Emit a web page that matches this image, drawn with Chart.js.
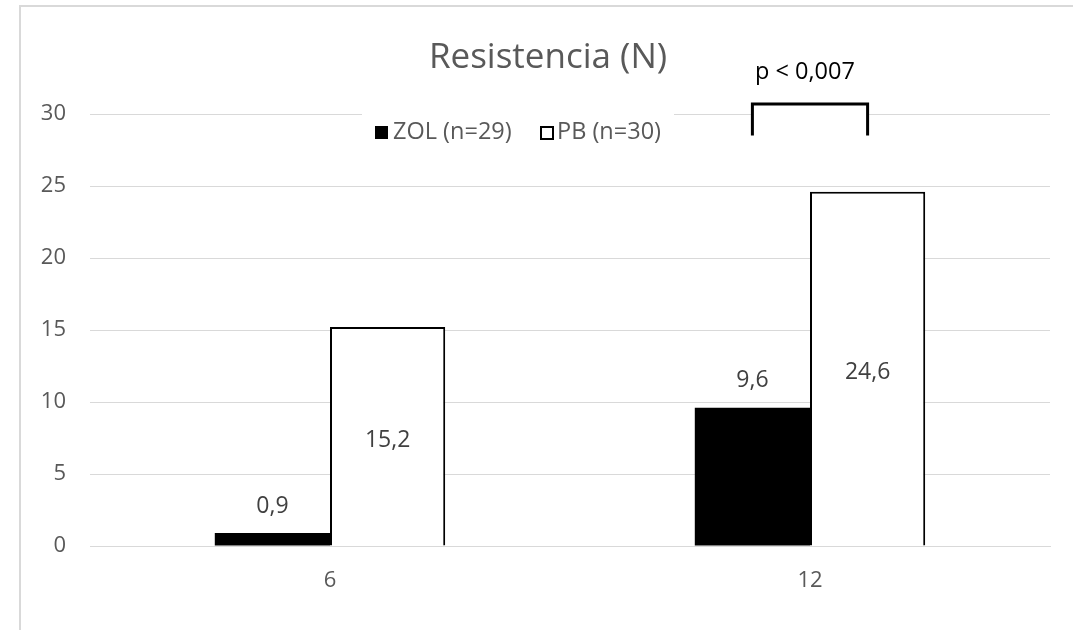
<!DOCTYPE html>
<html>
<head>
<meta charset="utf-8">
<script src="https://cdn.jsdelivr.net/npm/chart.js@4.4.1/dist/chart.umd.min.js"></script>
<style>
  html, body { margin: 0; padding: 0; background: #fff; }
  canvas { display: block; }
</style>
</head>
<body>
<canvas id="chart" width="1073" height="630"></canvas>
<script>
// Months of follow-up and mean resistance per group
const categories = ['6', '12'];
const zolValues = [0.9, 9.6];
const pbValues = [15.2, 24.6];
const seriesNames = ['ZOL (n=29)', 'PB (n=30)'];
const yTickValues = [0, 5, 10, 15, 20, 25, 30];
const chartTitle = 'Resistencia (N)';
const significanceText = 'p < 0,007';

const FONT = '"Open Sans", "Liberation Sans", sans-serif';
const TEXT_GREY = '#595959';
const LABEL_GREY = '#404040';
const GRID_GREY = '#d9d9d9';

const fmt = v => v.toFixed(1).replace('.', ',');

const decorations = {
  id: 'decorations',
  beforeDraw(chart) {
    const ctx = chart.ctx;
    ctx.save();
    ctx.fillStyle = '#fff';
    ctx.fillRect(0, 0, chart.width, chart.height);
    // outer frame of the chart box
    ctx.strokeStyle = GRID_GREY;
    ctx.lineWidth = 2;
    ctx.strokeRect(20, 6, chart.width + 40, chart.height + 40);
    ctx.restore();
  },
  afterDatasetsDraw(chart) {
    const ctx = chart.ctx;
    ctx.save();
    ctx.font = '23px ' + FONT;
    ctx.textAlign = 'center';
    ctx.textBaseline = 'middle';
    ctx.fillStyle = LABEL_GREY;
    // ZOL values sit above the bar end
    chart.getDatasetMeta(0).data.forEach((bar, i) => {
      ctx.fillText(fmt(zolValues[i]), bar.x, bar.y - 27);
    });
    // PB values are centred inside the bar
    chart.getDatasetMeta(1).data.forEach((bar, i) => {
      ctx.fillText(fmt(pbValues[i]), bar.x, (bar.y + bar.base) / 2 + 4);
    });
    ctx.restore();
  },
  afterDraw(chart) {
    const ctx = chart.ctx;
    const ys = chart.scales.y;
    ctx.save();

    // title
    ctx.font = '35px ' + FONT;
    ctx.fillStyle = TEXT_GREY;
    ctx.textAlign = 'center';
    ctx.textBaseline = 'middle';
    ctx.fillText(chartTitle, 548, 58);

    // legend with white backing over the gridline
    ctx.fillStyle = '#fff';
    ctx.fillRect(362, 110, 312, 42);
    ctx.font = '23.5px ' + FONT;
    ctx.textAlign = 'left';
    const ly = 132;
    ctx.fillStyle = '#000';
    ctx.fillRect(375, ly - 6, 13, 13);
    ctx.fillStyle = TEXT_GREY;
    ctx.fillText(seriesNames[0], 393, ly);
    ctx.fillStyle = '#fff';
    ctx.fillRect(541, ly - 5, 12, 12);
    ctx.strokeStyle = '#000';
    ctx.lineWidth = 2;
    ctx.strokeRect(541, ly - 5, 12, 12);
    ctx.fillStyle = TEXT_GREY;
    ctx.fillText(seriesNames[1], 557, ly);

    // significance bracket over the 12-month group
    const refBar = chart.getDatasetMeta(1).data[1];
    const cx = chart.scales.x.getPixelForValue(1);
    const half = refBar.width / 2;
    const top = ys.getPixelForValue(30.7);
    const bottom = ys.getPixelForValue(28.5);
    ctx.fillStyle = '#fff';
    ctx.fillRect(cx - half, top, half * 2, bottom - top);
    ctx.beginPath();
    ctx.moveTo(cx - half, bottom);
    ctx.lineTo(cx - half, top);
    ctx.lineTo(cx + half, top);
    ctx.lineTo(cx + half, bottom);
    ctx.strokeStyle = '#000';
    ctx.lineWidth = 3;
    ctx.stroke();
    ctx.font = '23.5px ' + FONT;
    ctx.fillStyle = '#000';
    ctx.textAlign = 'center';
    ctx.fillText(significanceText, cx - 5, 72);

    ctx.restore();
  }
};

new Chart(document.getElementById('chart'), {
  type: 'bar',
  data: {
    labels: categories,
    datasets: [
      {
        label: seriesNames[0],
        data: zolValues,
        backgroundColor: '#000',
        borderWidth: 0,
        categoryPercentage: 0.48,
        barPercentage: 1.0
      },
      {
        label: seriesNames[1],
        data: pbValues,
        backgroundColor: '#fff',
        borderColor: '#000',
        borderWidth: 2,
        borderSkipped: 'bottom',
        categoryPercentage: 0.48,
        barPercentage: 1.0
      }
    ]
  },
  options: {
    responsive: false,
    animation: false,
    layout: { padding: { left: 0, right: 23, top: 114, bottom: 24 } },
    plugins: {
      legend: { display: false },
      title: { display: false },
      tooltip: { enabled: false }
    },
    scales: {
      x: {
        grid: { display: false, drawTicks: false },
        border: { display: true, color: GRID_GREY, width: 1 },
        ticks: { color: TEXT_GREY, font: { family: FONT, size: 22 }, padding: 22 },
        afterFit(scale) { scale.height = 60; }
      },
      y: {
        min: 0,
        max: 30,
        afterBuildTicks(scale) { scale.ticks = yTickValues.map(v => ({ value: v })); },
        grid: { color: GRID_GREY, lineWidth: 1, drawTicks: false },
        border: { display: false },
        ticks: { color: TEXT_GREY, font: { family: FONT, size: 22 }, padding: 24 },
        afterFit(scale) { scale.width = 90; }
      }
    }
  },
  plugins: [decorations]
});
</script>
</body>
</html>
